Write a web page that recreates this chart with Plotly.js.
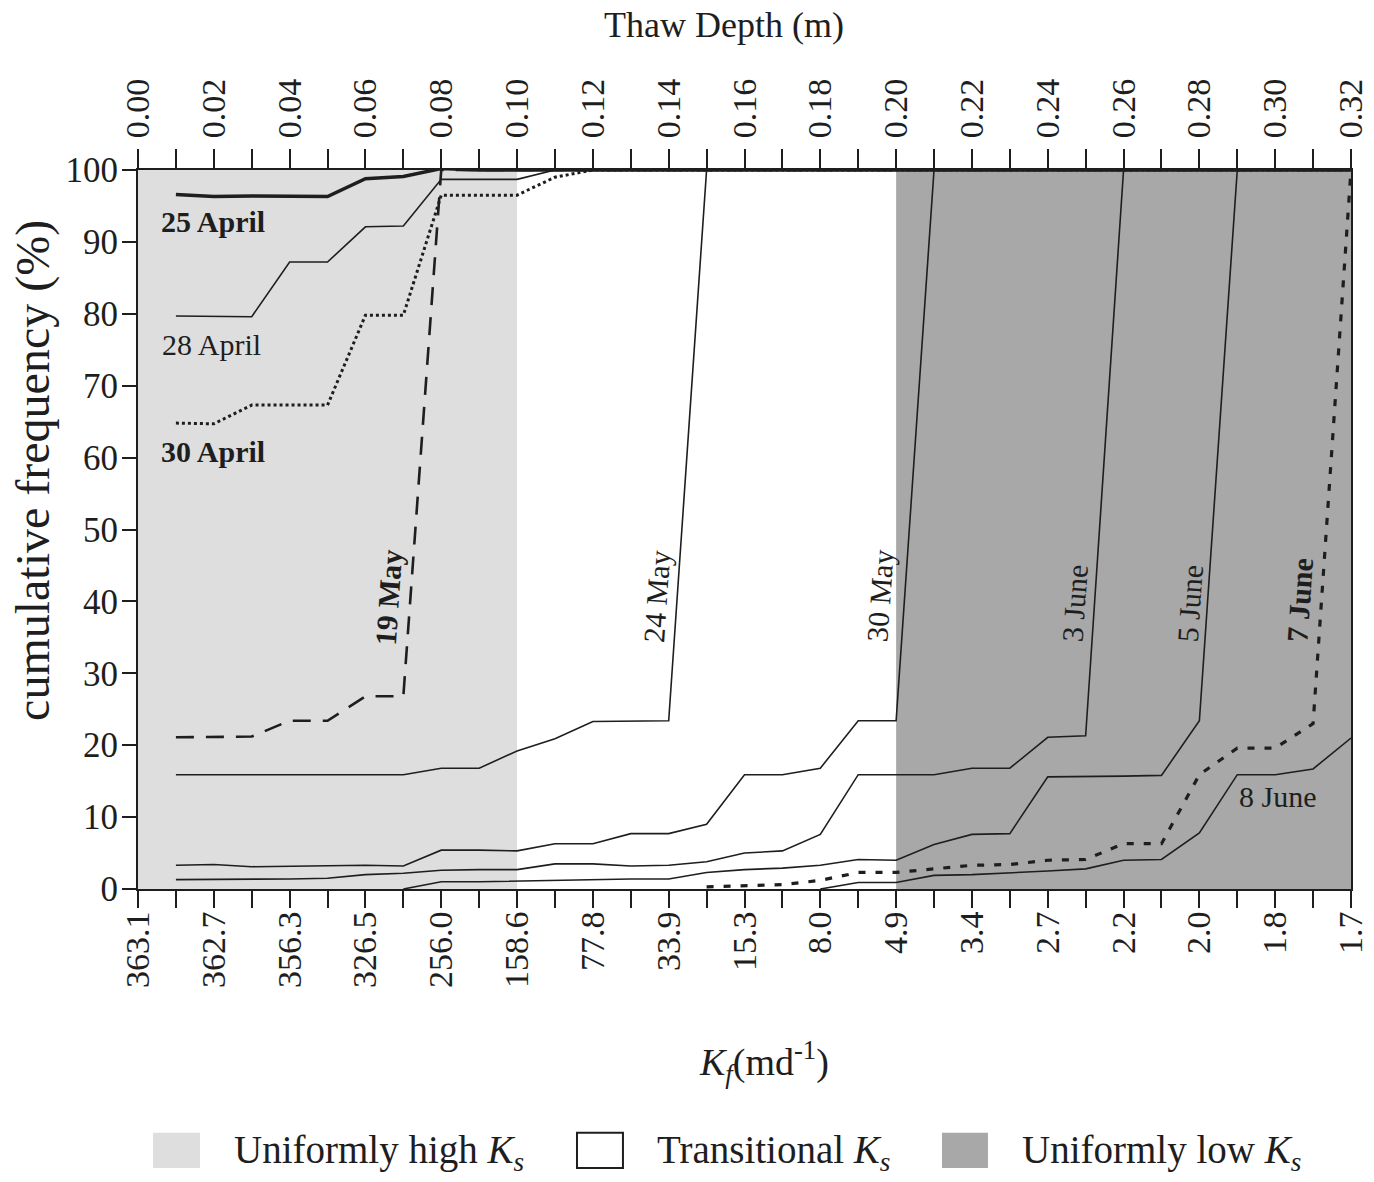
<!DOCTYPE html>
<html>
<head>
<meta charset="utf-8">
<script src="https://cdn.plot.ly/plotly-3.0.1.min.js"></script>
<style>html,body{margin:0;padding:0;background:#fff;}#chart{width:1374px;height:1182px;}</style>
</head>
<body>
<div id="chart"></div>
<script>
// ---------- data ----------
const depth = [0.01,0.02,0.03,0.04,0.05,0.06,0.07,0.08,0.09,0.10,0.11,0.12,0.13,0.14,0.15,0.16,
               0.17,0.18,0.19,0.20,0.21,0.22,0.23,0.24,0.25,0.26,0.27,0.28,0.29,0.30,0.31,0.32];

const apr25 = [96.6,96.3,96.4,96.4,96.3,98.8,99.1,100.2,100,100,100,100,100,100,100,100,
               100,100,100,100,100,100,100,100,100,100,100,100,100,100,100,100];
const apr28 = [79.7,79.7,79.6,87.2,87.2,92.1,92.2,98.7,98.7,98.7,100,100,100,100,100,100,
               100,100,100,100,100,100,100,100,100,100,100,100,100,100,100,100];
const apr30 = [64.8,64.7,67.3,67.3,67.3,79.8,79.8,96.5,96.5,96.5,99.0,100,100,100,100,100,
               100,100,100,100,100,100,100,100,100,100,100,100,100,100,100,100];
const may19 = [21.1,21.1,21.2,23.4,23.4,26.8,26.8,100,100,100,100,100,100,100,100,100,
               100,100,100,100,100,100,100,100,100,100,100,100,100,100,100,100];
const may24 = [15.9,15.9,15.8,15.9,15.9,15.8,15.9,16.8,16.8,19.2,20.9,23.3,23.4,23.4,100,100,
               100,100,100,100,100,100,100,100,100,100,100,100,100,100,100,100];
const may30 = [3.3,3.4,3.1,3.2,3.2,3.3,3.2,5.4,5.4,5.3,6.3,6.3,7.7,7.7,9.0,15.9,
               15.9,16.8,23.4,23.4,100,100,100,100,100,100,100,100,100,100,100,100];
const jun3  = [1.3,1.3,1.4,1.4,1.5,2.0,2.2,2.6,2.7,2.7,3.5,3.5,3.2,3.3,3.8,5.0,
               5.3,7.6,15.9,15.9,15.9,16.8,16.8,21.1,21.3,100,100,100,100,100,100,100];
const jun5  = [null,null,null,null,null,null,0,1.0,1.0,1.1,1.3,1.4,1.4,1.4,2.3,2.7,
               2.9,3.3,4.1,4.0,6.2,7.6,7.7,15.6,15.6,15.7,15.8,23.4,100,100,100,100];
const jun7  = [null,null,null,null,null,null,null,null,null,null,null,null,null,null,0.3,0.5,
               0.6,1.2,2.3,2.3,2.8,3.3,3.4,4.0,4.1,6.3,6.3,15.9,19.6,19.6,23.0,100];
const jun8  = [null,null,null,null,null,null,null,null,null,null,null,null,null,null,null,null,
               null,0,0.9,0.9,1.9,2.0,2.2,2.5,2.8,4.0,4.1,7.8,15.9,15.9,16.7,21.0];

// tick labels
const thawTickVals = [0.00,0.02,0.04,0.06,0.08,0.10,0.12,0.14,0.16,0.18,0.20,0.22,0.24,0.26,0.28,0.30,0.32];
const thawLabels = ['0.00','0.02','0.04','0.06','0.08','0.10','0.12','0.14','0.16','0.18','0.20','0.22','0.24','0.26','0.28','0.30','0.32'];
const kfLabels = ['363.1','362.7','356.3','326.5','256.0','158.6','77.8','33.9','15.3','8.0','4.9','3.4','2.7','2.2','2.0','1.8','1.7'];
const minorTickVals = [0.01,0.03,0.05,0.07,0.09,0.11,0.13,0.15,0.17,0.19,0.21,0.23,0.25,0.27,0.29,0.31];

// zones of Ks (thaw-depth boundaries)
const zoneNames = ['Uniformly high', 'Transitional', 'Uniformly low'];
const zoneStart = [0.00, 0.10, 0.20];
const zoneEnd   = [0.10, 0.20, 0.32];

// ---------- styles ----------
const SERIF = 'Liberation Serif, Times New Roman, serif';
const INK = '#1e1e1e';
const zoneFill = ['#dedede', '#ffffff', '#a8a8a8'];

// combine major + minor tick positions
const allTicks = thawTickVals.concat(minorTickVals).sort((a,b)=>a-b);
const topText = allTicks.map(v => { const i = thawTickVals.indexOf(v); return i >= 0 ? thawLabels[i] : ''; });
const botText = allTicks.map(v => { const i = thawTickVals.indexOf(v); return i >= 0 ? kfLabels[i] : ''; });

const seriesDefs = [
  {name:'25 April', y:apr25, width:3.5, dash:'solid'},
  {name:'28 April', y:apr28, width:1.6, dash:'solid'},
  {name:'30 April', y:apr30, width:3, dash:'dot'},
  {name:'19 May',   y:may19, width:2.6, dash:'18px,12px'},
  {name:'24 May',   y:may24, width:1.6, dash:'solid'},
  {name:'30 May',   y:may30, width:1.6, dash:'solid'},
  {name:'3 June',   y:jun3,  width:1.6, dash:'solid'},
  {name:'5 June',   y:jun5,  width:1.6, dash:'solid'},
  {name:'7 June',   y:jun7,  width:3.2, dash:'7px,10px'},
  {name:'8 June',   y:jun8,  width:1.6, dash:'solid'}
];

const traces = seriesDefs.map(s => ({
  type:'scatter', mode:'lines', x:depth, y:s.y, name:s.name, xaxis:'x2', yaxis:'y',
  line:{color:INK, width:s.width, dash:s.dash}, connectgaps:false, showlegend:false, hoverinfo:'x+y+name'
}));
// helper trace so the bottom (Kf) axis is drawn
traces.push({type:'scatter', mode:'lines', x:[depth[0]], y:[null], xaxis:'x', yaxis:'y', showlegend:false, hoverinfo:'skip'});

const shapes = zoneStart.map((s,i) => ({
  type:'rect', xref:'x', yref:'y', x0:s, x1:zoneEnd[i], y0:0, y1:100,
  fillcolor:zoneFill[i], line:{width:0}, layer:'below'
}));

// legend swatches (paper coords)
const legX = [[0.0124,0.0511],[0.3619,0.3998],[0.6628,0.7007]];
const legTextX = [0.0775, 0.4262, 0.7271];
legX.forEach((p,i) => shapes.push({
  type:'rect', xref:'paper', yref:'paper', x0:p[0], x1:p[1], y0:-0.388, y1:-0.339,
  fillcolor:zoneFill[i], line:{width: i===1 ? 2 : 0, color:INK}
}));

const labelDefs = [
  {t:'<b>25 April</b>', x:0.0198, y:92.8, a:0},
  {t:'28 April',        x:0.0193, y:75.8, a:0},
  {t:'<b>30 April</b>', x:0.0198, y:60.9, a:0},
  {t:'<b>19 May</b>',   x:0.0660, y:40.6, a:-86},
  {t:'24 May',          x:0.1369, y:40.8, a:-86},
  {t:'30 May',          x:0.1958, y:40.8, a:-86},
  {t:'3 June',          x:0.2472, y:39.8, a:-86},
  {t:'5 June',          x:0.2776, y:39.8, a:-86},
  {t:'<b>7 June</b>',   x:0.3066, y:40.2, a:-86},
  {t:'8 June',          x:0.3008, y:12.8, a:0}
];

const annotations = labelDefs.map(d => ({
  text:d.t, xref:'x2', yref:'y', x:d.x, y:d.y, textangle:d.a, showarrow:false,
  font:{family:SERIF, size:30, color:INK}, xanchor:'center', yanchor:'middle'
}));

annotations.push(
  {text:'Thaw Depth (m)', xref:'paper', yref:'paper', x:0.483, y:1.2017, showarrow:false,
   font:{family:SERIF, size:36, color:INK}, xanchor:'center', yanchor:'middle'},
  {text:'cumulative frequency (%)', xref:'paper', yref:'paper', x:-0.0866, y:0.5828, textangle:-90, showarrow:false,
   font:{family:SERIF, size:48, color:INK}, xanchor:'center', yanchor:'middle'},
  {text:'<i>K</i><sub><i>f</i></sub>(md<sup>-1</sup>)', xref:'paper', yref:'paper', x:0.516, y:-0.2406, showarrow:false,
   font:{family:SERIF, size:38, color:INK}, xanchor:'center', yanchor:'middle'}
);
zoneNames.forEach((n,i) => annotations.push({
  text:n + ' <i>K</i><sub><i>s</i></sub>', xref:'paper', yref:'paper', x:legTextX[i], y:-0.3658,
  showarrow:false, font:{family:SERIF, size:39, color:INK}, xanchor:'left', yanchor:'middle'
}));

const axisCommon = {
  range:[0,0.32], tickmode:'array', tickvals:allTicks, ticks:'outside', ticklen:19, tickwidth:2,
  tickcolor:INK, tickangle:-90, showgrid:false, zeroline:false, showline:true, linecolor:INK, linewidth:2,
  tickfont:{family:SERIF, size:34, color:INK}, fixedrange:true
};

const layout = {
  width:1374, height:1182,
  margin:{l:138, r:23, t:170, b:293, pad:0},
  paper_bgcolor:'#ffffff', plot_bgcolor:'#ffffff',
  showlegend:false,
  xaxis: Object.assign({}, axisCommon, {ticktext:botText, side:'bottom', anchor:'y', ticklen:17, ticklabelstandoff:-10}),
  xaxis2: Object.assign({}, axisCommon, {ticktext:topText, side:'top', overlaying:'x', anchor:'y', ticklabelstandoff:4}),
  yaxis: {range:[0,100], tickmode:'linear', tick0:0, dtick:10, ticks:'outside', ticklen:14, tickwidth:2,
          tickcolor:INK, showgrid:false, zeroline:false, showline:true, linecolor:INK, linewidth:2, mirror:true,
          tickfont:{family:SERIF, size:35, color:INK}, fixedrange:true, ticklabelstandoff:-3},
  shapes:shapes,
  annotations:annotations
};

Plotly.newPlot('chart', traces, layout, {staticPlot:true, displayModeBar:false});
</script>
</body>
</html>
